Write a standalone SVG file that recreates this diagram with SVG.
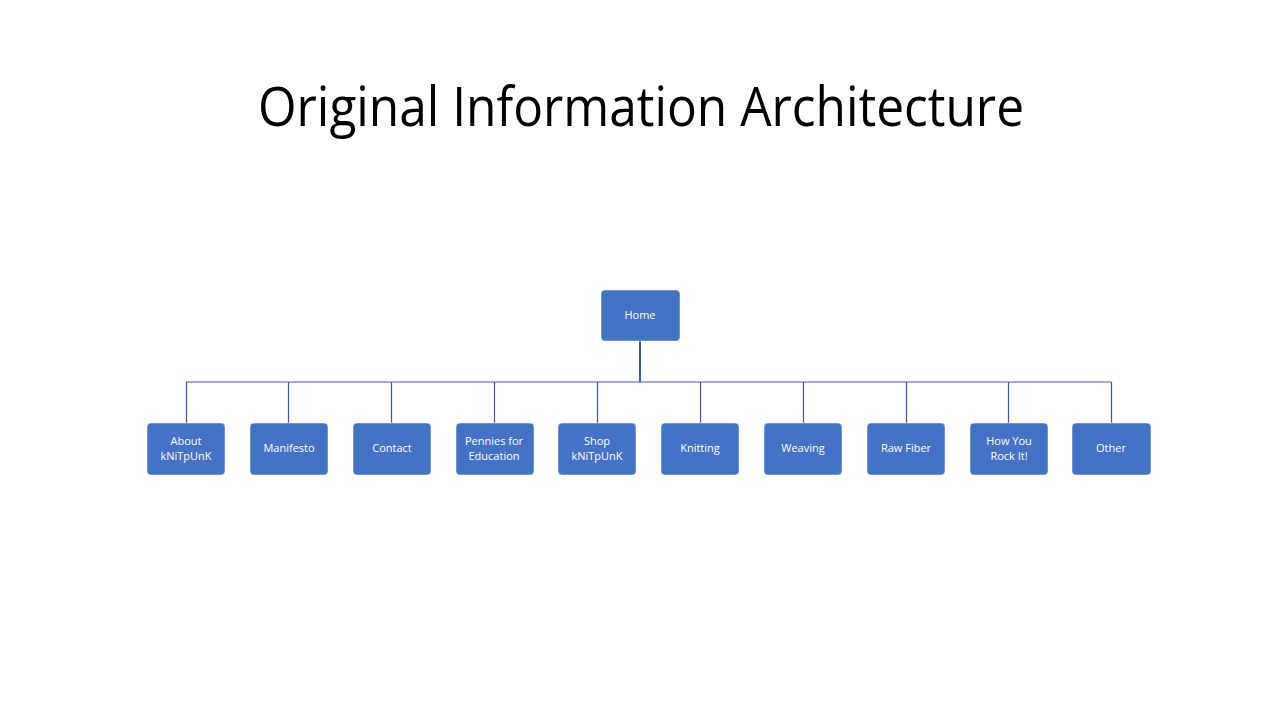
<svg xmlns="http://www.w3.org/2000/svg" width="1280" height="720" viewBox="0 0 1280 720">
<style>
.box{fill:#4472C4;stroke:#ffffff;stroke-width:0.5}
.lbl{font-family:"Open Sans","Liberation Sans",sans-serif;font-size:11px;fill:#ffffff;text-anchor:middle;dominant-baseline:central}
.title{font-family:"Open Sans","Liberation Sans",sans-serif;font-size:54px;fill:#000000;text-anchor:middle}
.conn line{stroke:#3A5C9C;stroke-width:1.2}
</style>
<rect width="1280" height="720" fill="#ffffff"/>
<text class="title" x="641" y="126" textLength="766" lengthAdjust="spacingAndGlyphs">Original Information Architecture</text>
<g id="connectors" class="conn">
<line x1="640" y1="341" x2="640" y2="382" style="stroke-width:2"/>
<line x1="186" y1="382" x2="1111.5" y2="382"/>
<line x1="186.5" y1="382" x2="186.5" y2="423"/>
<line x1="288.5" y1="382" x2="288.5" y2="423"/>
<line x1="391.5" y1="382" x2="391.5" y2="423"/>
<line x1="494.5" y1="382" x2="494.5" y2="423"/>
<line x1="597.5" y1="382" x2="597.5" y2="423"/>
<line x1="700.5" y1="382" x2="700.5" y2="423"/>
<line x1="803.5" y1="382" x2="803.5" y2="423"/>
<line x1="906.5" y1="382" x2="906.5" y2="423"/>
<line x1="1008.5" y1="382" x2="1008.5" y2="423"/>
<line x1="1111.5" y1="382" x2="1111.5" y2="423"/>
</g>
<g id="home"><rect class="box" x="601" y="290" width="79" height="51" rx="4"/><text class="lbl" x="640" y="314">Home</text></g>
<g id="about"><rect class="box" x="147" y="423" width="78" height="52" rx="4"/><text class="lbl" x="186" y="440">About</text><text class="lbl" x="186" y="455">kNiTpUnK</text></g>
<g id="manifesto"><rect class="box" x="250" y="423" width="78" height="52" rx="4"/><text class="lbl" x="289" y="447">Manifesto</text></g>
<g id="contact"><rect class="box" x="353" y="423" width="78" height="52" rx="4"/><text class="lbl" x="392" y="447">Contact</text></g>
<g id="pennies"><rect class="box" x="456" y="423" width="78" height="52" rx="4"/><text class="lbl" x="494" y="440">Pennies for</text><text class="lbl" x="494" y="455">Education</text></g>
<g id="shop"><rect class="box" x="558" y="423" width="78" height="52" rx="4"/><text class="lbl" x="597" y="440">Shop</text><text class="lbl" x="597" y="455">kNiTpUnK</text></g>
<g id="knitting"><rect class="box" x="661" y="423" width="78" height="52" rx="4"/><text class="lbl" x="700" y="447">Knitting</text></g>
<g id="weaving"><rect class="box" x="764" y="423" width="78" height="52" rx="4"/><text class="lbl" x="803" y="447">Weaving</text></g>
<g id="rawfiber"><rect class="box" x="867" y="423" width="78" height="52" rx="4"/><text class="lbl" x="906" y="447">Raw Fiber</text></g>
<g id="howyou"><rect class="box" x="970" y="423" width="78" height="52" rx="4"/><text class="lbl" x="1009" y="440">How You</text><text class="lbl" x="1009" y="455">Rock It!</text></g>
<g id="other"><rect class="box" x="1072" y="423" width="79" height="52" rx="4"/><text class="lbl" x="1111" y="447">Other</text></g>
</svg>
